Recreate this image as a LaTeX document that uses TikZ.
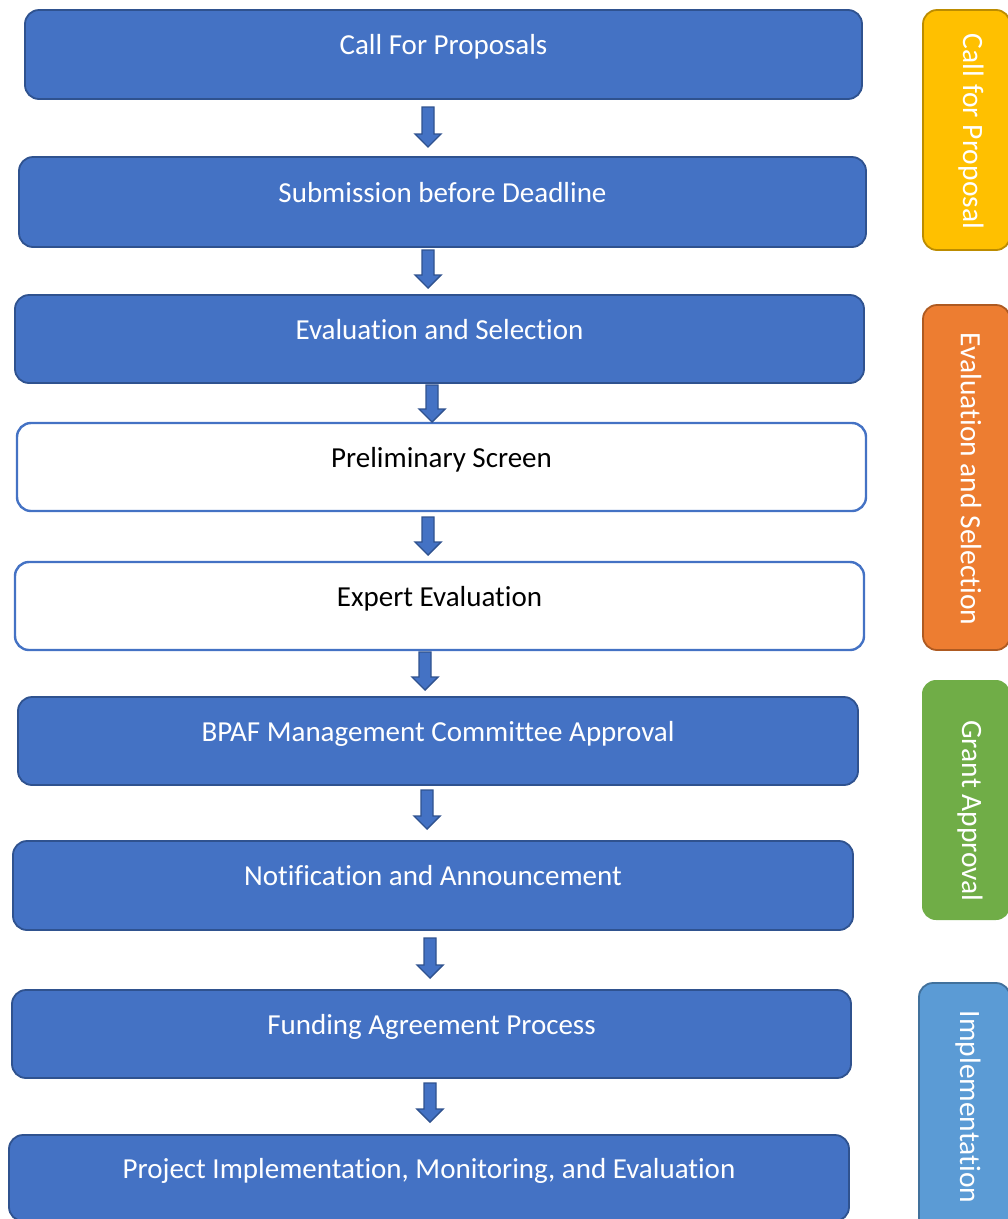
\documentclass[tikz,border=0pt]{standalone}
\usepackage{fontspec}
\setmainfont[Ligatures={NoCommon}]{Carlito}
\definecolor{mainblue}{HTML}{4472C4}
\definecolor{mainborder}{HTML}{2F528F}
\definecolor{phaseyellow}{HTML}{FFC000}
\definecolor{phaseyellowb}{HTML}{BC8C00}
\definecolor{phaseorange}{HTML}{ED7D31}
\definecolor{phaseorangeb}{HTML}{AE5A21}
\definecolor{phasegreen}{HTML}{70AD47}
\definecolor{phaseblue}{HTML}{5B9BD5}
\definecolor{phaseblueb}{HTML}{41719C}
\newcommand\blkarrow[3]{%
  \draw[blockarrow] ({#1-6},#2) -- ({#1+6},#2) -- ({#1+6},{#3-13}) -- ({#1+13},{#3-13})
    -- (#1,#3) -- ({#1-13},{#3-13}) -- ({#1-6},{#3-13}) -- cycle;}
\begin{document}
\begin{tikzpicture}[x=1pt,y=-1pt,
  stage/.style={draw=mainborder, fill=mainblue, line width=1.8pt, rounded corners=14pt,
    text=white, font=\fontsize{29}{34}\selectfont, text height=20pt, text depth=20pt, inner sep=0pt},
  substage/.style={stage, draw=mainblue, fill=white, text=black, line width=2.4pt},
  phase/.style={rounded corners=14pt, line width=1.8pt, inner sep=0pt},
  phasetext/.style={text=white, rotate=-90, font=\fontsize{29.5}{34}\selectfont, inner sep=0pt},
  blockarrow/.style={fill=mainblue, draw=mainborder, line width=1.4pt, line join=miter}]
\useasboundingbox (0,0) rectangle (1008,1219);

% main stages
\node[stage, minimum width=837pt, minimum height=89pt] (b1) at (443.5,54.5) {Call For Proposals};
\node[stage, minimum width=847pt, minimum height=90pt] (b2) at (442.5,202) {Submission before Deadline};
\node[stage, minimum width=849pt, minimum height=88pt] (b3) at (439.5,339) {Evaluation and Selection};
\node[substage, minimum width=849pt, minimum height=88pt] (b4) at (441.5,467) {Preliminary Screen};
\node[substage, minimum width=849pt, minimum height=88pt] (b5) at (439.5,606) {Expert Evaluation};
\node[stage, minimum width=840pt, minimum height=88pt] (b6) at (438,741) {BPAF Management Committee Approval};
\node[stage, minimum width=840pt, minimum height=89pt] (b7) at (433,885.5) {Notification and Announcement};
\node[stage, minimum width=839pt, minimum height=88pt] (b8) at (431.5,1034) {Funding Agreement Process};
\node[stage, minimum width=840pt, minimum height=86pt] (b9) at (429,1178) {Project Implementation, Monitoring, and Evaluation};

% block arrows
\blkarrow{428}{107}{147}
\blkarrow{428}{250}{288}
\blkarrow{432}{385}{422}
\blkarrow{428}{517}{555}
\blkarrow{425}{652}{690}
\blkarrow{427}{790}{829}
\blkarrow{430}{938}{978}
\blkarrow{430}{1083}{1122}

% phase boxes
\node[phase, draw=phaseyellowb, fill=phaseyellow, minimum width=87pt, minimum height=240pt] (p1) at (966.5,130) {};
\node[phasetext] (p1t) at (971,131.5) {Call for Proposal};
\node[phase, draw=phaseorangeb, fill=phaseorange, minimum width=87pt, minimum height=345pt] (p2) at (966.5,477.5) {};
\node[phasetext] (p2t) at (971,479) {Evaluation and Selection};
\node[phase, fill=phasegreen, minimum width=88pt, minimum height=240pt] (p3) at (966,800) {};
\node[phasetext] (p3t) at (970,811) {Grant Approval};
\node[phase, draw=phaseblueb, fill=phaseblue, minimum width=91pt, minimum height=257pt] (p4) at (964.5,1111.5) {};
\node[phasetext] (p4t) at (968,1107) {Implementation};
\end{tikzpicture}
\end{document}
